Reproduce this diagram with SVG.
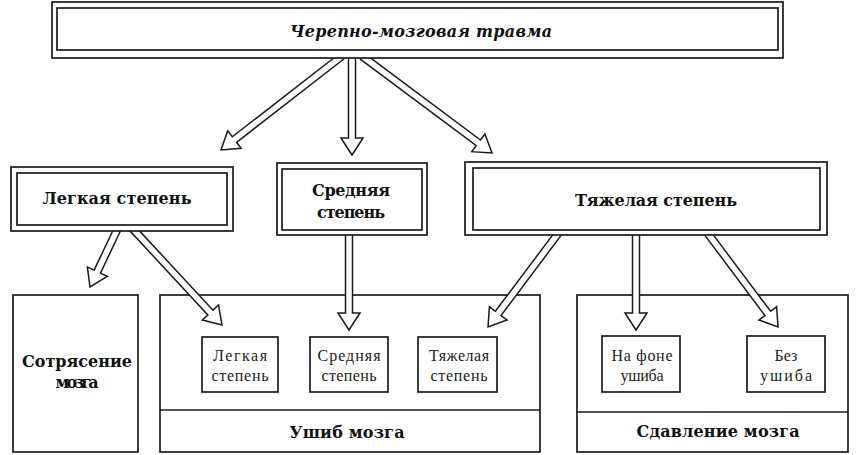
<svg xmlns="http://www.w3.org/2000/svg" width="856" height="455" viewBox="0 0 856 455">
<style>
.box{fill:#fff;stroke:#1a1a1a;stroke-width:1.7}
.ln{fill:none;stroke:#1a1a1a;stroke-width:1.7}
.arr{fill:#fff;stroke:#1a1a1a;stroke-width:1.5;stroke-linejoin:miter}
.tb{font-family:"DejaVu Serif","Liberation Serif",serif;font-weight:bold;font-size:16px;fill:#111;text-anchor:middle}
.ti{font-family:"DejaVu Serif","Liberation Serif",serif;font-weight:bold;font-style:italic;font-size:16px;fill:#111;text-anchor:middle}
.tr{font-family:"Liberation Serif","DejaVu Serif",serif;font-size:16px;fill:#222;text-anchor:middle}
</style>
<rect width="856" height="455" fill="#fff"/>
<g id="concussion">
<rect class="box" x="13" y="295" width="125" height="157"/>
<text class="tb" x="77" y="367" textLength="110">Сотрясение</text>
<text class="tb" x="77" y="388" textLength="43">мозга</text>
</g>
<g id="contusion">
<rect class="box" x="160" y="295" width="380" height="157"/>
<line class="ln" x1="160" y1="410" x2="540" y2="410"/>
<text class="tb" x="347" y="438" textLength="115">Ушиб мозга</text>
</g>
<g id="compression">
<rect class="box" x="577" y="295" width="271" height="157"/>
<line class="ln" x1="577" y1="412" x2="848" y2="412"/>
<text class="tb" x="718" y="437" textLength="163">Сдавление мозга</text>
</g>
<g id="contusion-mild">
<rect class="box" x="202" y="337" width="76" height="55"/>
<text class="tr" x="240" y="361" textLength="54">Легкая</text>
<text class="tr" x="240" y="381" textLength="57">степень</text>
</g>
<g id="contusion-moderate">
<rect class="box" x="310" y="337" width="78" height="55"/>
<text class="tr" x="349" y="361" textLength="63">Средняя</text>
<text class="tr" x="349" y="381" textLength="55">степень</text>
</g>
<g id="contusion-severe">
<rect class="box" x="418" y="337" width="79" height="55"/>
<text class="tr" x="459" y="361" textLength="60">Тяжелая</text>
<text class="tr" x="459" y="381" textLength="57">степень</text>
</g>
<g id="compression-with">
<rect class="box" x="602" y="336" width="78" height="56"/>
<text class="tr" x="642" y="361" textLength="61">На фоне</text>
<text class="tr" x="642" y="381" textLength="43">ушиба</text>
</g>
<g id="compression-without">
<rect class="box" x="747" y="336" width="78" height="56"/>
<text class="tr" x="786" y="361">Без</text>
<text class="tr" x="786" y="381" textLength="52">ушиба</text>
</g>
<g id="connectors">
<path class="arr" d="M339.85,53.24 L232.28,136.81 L227.68,130.88 L221,150 L241.18,148.26 L236.58,142.33 L344.15,58.76"/>
<path class="arr" d="M348.5,56 L348.5,138 L341,138 L352,155 L363,138 L355.5,138 L355.5,56"/>
<path class="arr" d="M359.91,58.81 L476.28,145.64 L471.79,151.65 L492,153 L484.95,134.01 L480.46,140.02 L364.09,53.19"/>
<path class="arr" d="M114.84,226.5 L94.13,270.14 L87.35,266.92 L90,287 L107.23,276.36 L100.45,273.14 L121.16,229.5"/>
<path class="arr" d="M129.43,230.38 L207.87,314.92 L202.37,320.02 L222,325 L218.51,305.06 L213.01,310.16 L134.57,225.62"/>
<path class="arr" d="M345.5,231 L345.5,313 L338,313 L349,330 L360,313 L352.5,313 L352.5,231"/>
<path class="arr" d="M557.2,228.9 L495.4,311.3 L489.4,306.8 L488,327 L507,320 L501,315.5 L562.8,233.1"/>
<path class="arr" d="M632.5,231 L632.5,313 L625,313 L636,330 L647,313 L639.5,313 L639.5,231"/>
<path class="arr" d="M703.2,233.1 L765,315.5 L759,320 L778,327 L776.6,306.8 L770.6,311.3 L708.8,228.9"/>
</g>
<g id="tbi">
<rect class="box" x="52" y="2" width="731" height="56"/>
<rect class="ln" x="57" y="8" width="721" height="42"/>
<text class="ti" x="421" y="37" textLength="262">Черепно-мозговая травма</text>
</g>
<g id="mild">
<rect class="box" x="11" y="167" width="222" height="64"/>
<rect class="ln" x="17" y="173" width="210" height="52"/>
<text class="tb" x="117" y="204" textLength="149">Легкая степень</text>
</g>
<g id="moderate">
<rect class="box" x="277" y="163" width="150" height="72"/>
<rect class="ln" x="282" y="169" width="140" height="61"/>
<text class="tb" x="351" y="196" textLength="78">Средняя</text>
<text class="tb" x="351" y="218" textLength="68">степень</text>
</g>
<g id="severe">
<rect class="box" x="465" y="162" width="362" height="73"/>
<rect class="ln" x="473" y="168" width="347" height="62"/>
<text class="tb" x="656" y="206" textLength="162">Тяжелая степень</text>
</g>
</svg>
